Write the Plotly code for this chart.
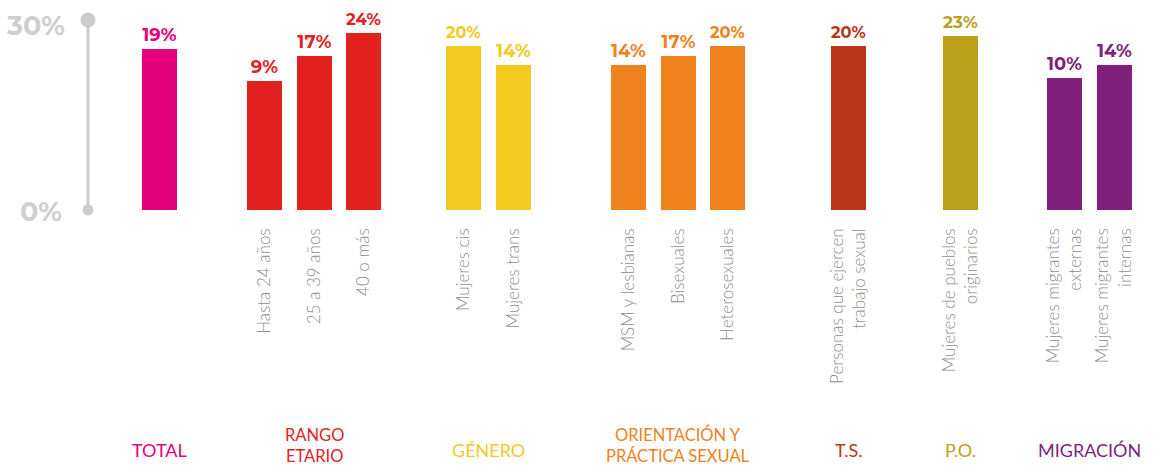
import plotly.graph_objects as go

# ---- data -------------------------------------------------------------
TICK_LABELS = [
    "",
    "Hasta 24 años", "25 a 39 años", "40 o más",
    "Mujeres cis", "Mujeres trans",
    "MSM y lesbianas", "Bisexuales", "Heterosexuales",
    "Personas que ejercen<br>trabajo sexual",
    "Mujeres de pueblos<br>originarios",
    "Mujeres migrantes<br>externas", "Mujeres migrantes<br>internas",
]
VALUES = [19, 9, 17, 24, 20, 14, 14, 17, 20, 20, 23, 10, 14]
GROUPS = ["TOTAL", "RANGO<br>ETARIO", "GÉNERO", "ORIENTACIÓN Y<br>PRÁCTICA SEXUAL",
          "T.S.", "P.O.", "MIGRACIÓN"]
GROUP_SIZES = [1, 3, 2, 3, 1, 1, 2]
GROUP_COLORS = ["#e5007e", "#e3221f", "#f3ca1f", "#ef821c", "#b9361a", "#bea11b", "#801f7c"]

# ---- layout constants (pixels) -----------------------------------------
W, H = 1154, 468
PLOT_BOTTOM = 210            # baseline of the bars
GROUP_FIRST_X = [159.5, 264.5, 463.5, 628.5, 848.5, 960.5, 1064.5]
BAR_STEP = 49.5
BAR_WIDTH = 35
PX_PER_PCT = 3.2
PEDESTAL_PX = 100            # solid foot under every bar

pedestal = PEDESTAL_PX / PX_PER_PCT
y_top = -pedestal + PLOT_BOTTOM / PX_PER_PCT

xs, colors, group_centers = [], [], []
for start, size, color in zip(GROUP_FIRST_X, GROUP_SIZES, GROUP_COLORS):
    pos = [start + i * BAR_STEP for i in range(size)]
    xs += pos
    colors += [color] * size
    group_centers.append(sum(pos) / size)


def py(pixel_y):
    """pixel row -> paper coordinate of the plot area"""
    return (PLOT_BOTTOM - pixel_y) / PLOT_BOTTOM


LIGHT = "Lato"
BOLD = "Montserrat, Inter, Lato, sans-serif"

fig = go.Figure()

# foot of each bar, below the value axis zero
fig.add_trace(go.Bar(
    x=xs, y=[pedestal] * len(xs), base=-pedestal, width=BAR_WIDTH,
    marker=dict(color=colors, line=dict(width=0)),
    hoverinfo="skip", showlegend=False,
))
# the values
fig.add_trace(go.Bar(
    x=xs, y=VALUES, width=BAR_WIDTH,
    marker=dict(color=colors, line=dict(width=0)),
    texttemplate="%{y}%", textposition="outside", cliponaxis=False,
    textfont=dict(family=BOLD, size=18, color=colors, weight="bold"),
    showlegend=False,
))

fig.update_layout(
    width=W, height=H, autosize=False,
    margin=dict(l=0, r=0, t=0, b=H - PLOT_BOTTOM, pad=0),
    paper_bgcolor="white", plot_bgcolor="white",
    barmode="overlay", bargap=0,
    xaxis=dict(range=[0, W], tickvals=xs, ticktext=TICK_LABELS, tickangle=-90,
               ticks="", showgrid=False, zeroline=False, showline=False,
               ticklabelstandoff=14,
               tickfont=dict(family=LIGHT, size=17, color="#8e8e8e", weight=300)),
    yaxis=dict(range=[-pedestal, y_top], visible=False, fixedrange=True),
)

# decorative scale on the left
AXIS_X = 88
fig.add_shape(type="line", xref="x", yref="paper", x0=AXIS_X, x1=AXIS_X,
              y0=py(20), y1=py(210), line=dict(color="#cccccc", width=3))
for cy, r in [(20, 7.5), (210, 5.5)]:
    fig.add_shape(type="circle", xref="x", yref="paper",
                  x0=AXIS_X - r, x1=AXIS_X + r, y0=py(cy - r), y1=py(cy + r),
                  fillcolor="#cccccc", line=dict(width=0))
for txt, xr, cy in [("30%", 67, 25), ("0%", 64, 211)]:
    fig.add_annotation(text=txt, x=xr, xref="x", xanchor="right",
                       y=py(cy), yref="paper", yanchor="middle", showarrow=False,
                       font=dict(family=BOLD, size=27, color="#cfcfcf", weight="bold"))

# group captions
for name, cx, color in zip(GROUPS, group_centers, GROUP_COLORS):
    two_lines = "<br>" in name
    fig.add_annotation(text=name, x=cx, xref="x", xanchor="center",
                       y=py(445 if two_lines else 450), yref="paper",
                       yanchor="middle", showarrow=False, align="center",
                       borderpad=0,
                       font=dict(family=LIGHT, size=16.5 if two_lines else 18,
                                 color=color))

fig.write_html("out.html")
